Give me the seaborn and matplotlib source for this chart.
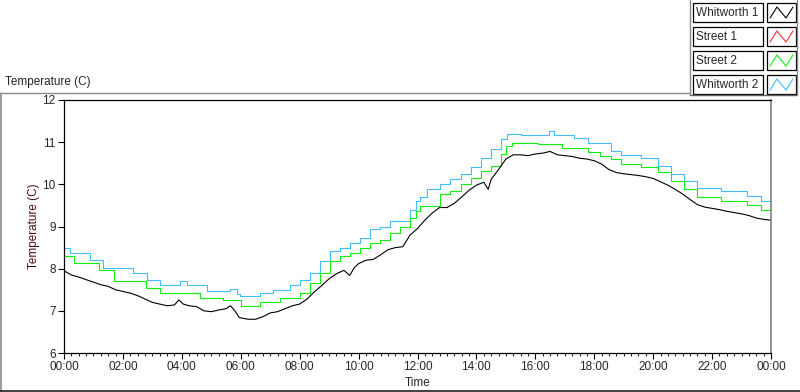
import numpy as np
import pandas as pd
import matplotlib
matplotlib.use('Agg')
import matplotlib.pyplot as plt
import seaborn as sns
from matplotlib.lines import Line2D
from matplotlib.patches import Rectangle
from matplotlib.ticker import MultipleLocator, FuncFormatter

sns.set_style('white')
plt.rcParams['font.family'] = ['Liberation Sans', 'DejaVu Sans']

# Whitworth 1 (black, noisy) - hours / temperature
w1_hours = [0.0, 0.25, 0.5, 0.75, 1.0, 1.25, 1.5, 1.75, 2.0, 2.25, 2.5, 2.75, 3.0, 3.25, 3.5, 3.75,
            3.9, 4.05, 4.25, 4.5, 4.75, 5.0, 5.25, 5.5, 5.65, 5.8, 5.95, 6.25, 6.5, 6.75, 7.0, 7.25,
            7.5, 7.75, 8.0, 8.25, 8.5, 8.75, 9.0, 9.25, 9.5, 9.7, 9.85, 10.0, 10.25, 10.5, 10.75,
            11.0, 11.25, 11.5, 11.75, 12.0, 12.25, 12.5, 12.75, 13.0, 13.25, 13.5, 13.75, 14.0,
            14.25, 14.4, 14.5, 14.75, 15.0, 15.25, 15.5, 15.75, 16.0, 16.25, 16.5, 16.75, 17.0,
            17.25, 17.5, 17.75, 18.0, 18.25, 18.5, 18.75, 19.0, 19.25, 19.5, 19.75, 20.0, 20.25,
            20.5, 20.75, 21.0, 21.25, 21.5, 21.75, 22.0, 22.25, 22.5, 22.75, 23.0, 23.25, 23.5,
            23.75, 24.0]
w1_temp = [7.95, 7.85, 7.80, 7.74, 7.68, 7.62, 7.58, 7.50, 7.46, 7.42, 7.36, 7.28, 7.20, 7.16, 7.12, 7.14,
           7.26, 7.16, 7.12, 7.10, 7.00, 6.98, 7.02, 7.05, 7.12, 7.00, 6.84, 6.80, 6.80, 6.86, 6.95, 6.98,
           7.05, 7.12, 7.16, 7.28, 7.45, 7.60, 7.76, 7.88, 7.96, 7.84, 8.02, 8.12, 8.20, 8.22, 8.33,
           8.45, 8.50, 8.52, 8.80, 8.95, 9.15, 9.32, 9.45, 9.45, 9.55, 9.70, 9.86, 9.98,
           10.05, 9.88, 10.12, 10.35, 10.60, 10.70, 10.70, 10.68, 10.72, 10.74, 10.78, 10.70, 10.68,
           10.66, 10.62, 10.60, 10.56, 10.48, 10.35, 10.28, 10.25, 10.23, 10.21, 10.18, 10.14, 10.06,
           9.98, 9.88, 9.77, 9.64, 9.52, 9.46, 9.43, 9.40, 9.36, 9.33, 9.30, 9.26, 9.20,
           9.17, 9.15]

# Street 1 (red) - no visible trace on the chart
s1_hours = []
s1_temp = []

# Street 2 (green) - stepped readings
s2_hours = [0.0, 0.33, 1.2, 1.7, 2.8, 3.26, 4.6, 5.4, 6.0, 6.66, 7.34, 8.02, 8.36, 8.7, 9.04, 9.38,
            9.72, 10.06, 10.4, 10.74, 11.08, 11.42, 11.76, 11.95, 12.1, 12.78, 13.12, 13.46, 13.8,
            14.14, 14.48, 14.82, 15.0, 15.2, 16.1, 16.9, 17.8, 18.2, 18.56, 18.9, 19.58, 20.15,
            20.6, 21.04, 21.5, 22.3, 23.2, 23.66, 24.0]
s2_temp = [8.29, 8.13, 7.98, 7.70, 7.54, 7.42, 7.30, 7.25, 7.12, 7.22, 7.30, 7.42, 7.66, 7.90, 8.17, 8.31,
           8.37, 8.49, 8.61, 8.69, 8.85, 9.00, 9.20, 9.36, 9.48, 9.76, 9.84, 10.00, 10.16,
           10.32, 10.44, 10.71, 10.91, 10.99, 10.95, 10.87, 10.77, 10.67, 10.60, 10.48, 10.40, 10.29,
           10.08, 9.88, 9.71, 9.61, 9.50, 9.40, 9.40]

# Whitworth 2 (light blue) - stepped readings
w2_hours = [0.0, 0.2, 0.88, 1.33, 2.35, 2.81, 3.26, 3.94, 4.17, 4.85, 5.64, 5.88, 5.98, 6.66, 7.1,
            7.68, 8.02, 8.36, 8.7, 9.04, 9.38, 9.72, 10.06, 10.4, 10.74, 11.08, 11.76, 11.95, 12.1,
            12.33, 12.78, 13.12, 13.46, 13.8, 14.14, 14.48, 14.82, 15.05, 15.5, 16.45, 16.62, 17.3,
            17.78, 18.56, 18.9, 19.58, 20.15, 20.6, 21.04, 21.5, 22.3, 23.2, 23.66, 24.0]
w2_temp = [8.49, 8.37, 8.21, 8.02, 7.90, 7.74, 7.62, 7.70, 7.62, 7.48, 7.52, 7.40, 7.34, 7.42, 7.50,
           7.62, 7.74, 7.90, 8.17, 8.42, 8.49, 8.61, 8.73, 8.93, 9.00, 9.13, 9.40, 9.61, 9.71,
           9.88, 10.00, 10.12, 10.24, 10.40, 10.63, 10.83, 11.07, 11.19, 11.17, 11.27, 11.17, 11.10,
           10.99, 10.79, 10.69, 10.63, 10.44, 10.24, 10.08, 9.92, 9.84, 9.72, 9.61, 9.61]

series = ['Whitworth 1', 'Street 1', 'Street 2', 'Whitworth 2']
colors = {'Whitworth 1': '#000000', 'Street 1': '#FF3030',
          'Street 2': '#10F010', 'Whitworth 2': '#40BEFF'}

W, H = 800, 392
def fx(x):
    return x / W
def fy(y):
    return 1 - y / H

fig = plt.figure(figsize=(8, 3.92), dpi=100)
ax = fig.add_axes([fx(64), fy(353), (771 - 64) / W, (353 - 100) / H])

sns.lineplot(x=w2_hours, y=w2_temp, ax=ax, color=colors['Whitworth 2'], lw=0.8, drawstyle='steps-post')
sns.lineplot(x=s2_hours, y=s2_temp, ax=ax, color=colors['Street 2'], lw=0.8, drawstyle='steps-post')
if len(s1_hours):
    sns.lineplot(x=s1_hours, y=s1_temp, ax=ax, color=colors['Street 1'], lw=0.8)
sns.lineplot(x=w1_hours, y=w1_temp, ax=ax, color=colors['Whitworth 1'], lw=0.8)

ax.set_xlim(0, 24)
ax.set_ylim(6, 12)
ax.xaxis.set_major_locator(MultipleLocator(2))
ax.xaxis.set_minor_locator(MultipleLocator(0.25))
ax.xaxis.set_major_formatter(FuncFormatter(lambda v, p: '%02d:00' % (int(round(v)) % 24)))
ax.yaxis.set_major_locator(MultipleLocator(1))
ax.tick_params(axis='both', which='major', direction='out', length=4, width=0.8,
               labelsize=8.5, color='black', pad=2, bottom=True, left=True)
ax.tick_params(axis='x', which='minor', direction='out', length=2.5, width=0.8, bottom=True)
for side in ['left', 'bottom', 'top']:
    ax.spines[side].set_color('black')
    ax.spines[side].set_linewidth(0.9)
ax.spines['right'].set_color('#808080')
ax.spines['right'].set_linewidth(1.2)
ax.set_xlabel('Time', fontsize=8.5, labelpad=3)
ax.set_ylabel('Temperature (C)', fontsize=8.5, color='#4a1010', labelpad=2)

# outer panel frame
gray = '#8a8a8a'
fig.add_artist(Line2D([fx(2), fx(690)], [fy(93), fy(93)], color=gray, lw=1))
fig.add_artist(Line2D([fx(1), fx(1)], [fy(93), fy(392)], color=gray, lw=1.2))
fig.add_artist(Line2D([0, 1], [fy(391), fy(391)], color='#202020', lw=1.2))
fig.add_artist(Line2D([fx(690), fx(690)], [fy(0), fy(95)], color=gray, lw=1))
fig.add_artist(Line2D([fx(690), fx(797)], [fy(95), fy(95)], color='#606060', lw=1))
fig.add_artist(Line2D([fx(797), fx(797)], [fy(0), fy(95)], color=gray, lw=1))
fig.text(fx(5), fy(82), 'Temperature (C)', fontsize=8.5, va='center', ha='left')

# legend panel
row_tops = [3, 27, 51, 75]
for name, top in zip(series, row_tops):
    h = 19
    fig.add_artist(Rectangle((fx(693), fy(top + h)), (763 - 693) / W, h / H,
                             fill=True, facecolor='white', edgecolor='black', lw=0.9))
    fig.add_artist(Rectangle((fx(767), fy(top + h)), (796 - 767) / W, h / H,
                             fill=True, facecolor='white', edgecolor='black', lw=0.9))
    fig.text(fx(696), fy(top + h / 2 + 0.5), name, fontsize=8.5, va='center', ha='left')
    zx = [770, 777, 786, 793]
    zy = [top + 15, top + 4, top + 15, top + 4]
    fig.add_artist(Line2D([fx(v) for v in zx], [fy(v) for v in zy], color=colors[name], lw=0.8))

fig.savefig('out.png', dpi=100, facecolor='white')
